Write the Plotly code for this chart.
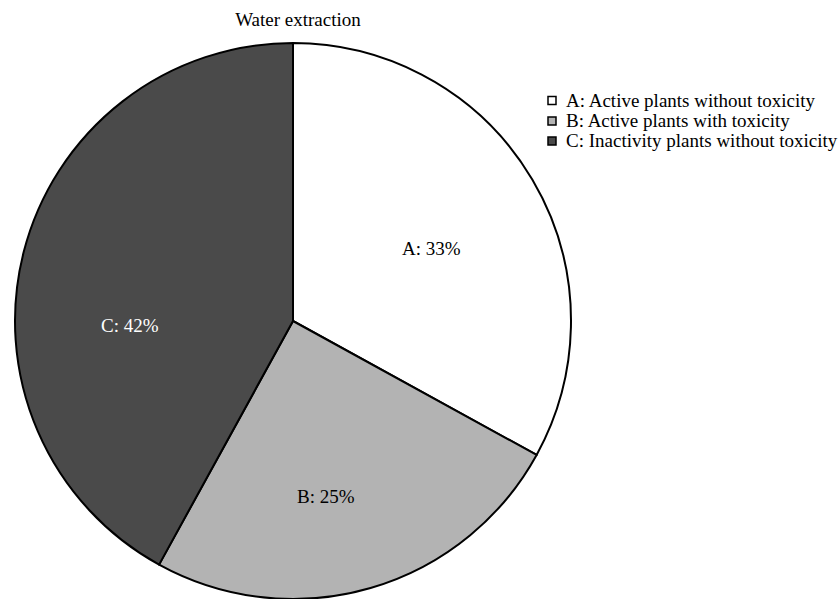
import plotly.graph_objects as go

W, H = 840, 599

# Share of plants per category (water extraction)
categories = ["A", "B", "C"]
legend_names = [
    "A: Active plants without toxicity",
    "B: Active plants with toxicity",
    "C: Inactivity plants without toxicity",
]
shares = [33, 25, 42]
colors = ["#ffffff", "#b3b3b3", "#4a4a4a"]

slice_text = [f"{c}: {v}%" for c, v in zip(categories, shares)]
text_colors = ["black", "black", "white"]

FONT = "Liberation Serif"
FS = 19


def px(x):
    return x / W


def py(y):
    return 1 - y / H


fig = go.Figure(
    go.Pie(
        labels=legend_names,
        values=shares,
        textinfo="none",
        sort=False,
        direction="clockwise",
        rotation=0,
        marker=dict(colors=colors, line=dict(color="black", width=2)),
        domain=dict(x=[0, 586 / W], y=[0, 556 / H]),
        hoverinfo="label+percent",
        showlegend=False,
    )
)

# slice labels placed inside each sector
label_pos = [(432, 248), (326, 496), (130, 325)]
annotations = []
for txt, col, (lx, ly) in zip(slice_text, text_colors, label_pos):
    annotations.append(
        dict(
            text=txt, x=px(lx), y=py(ly), xref="paper", yref="paper",
            xanchor="center", yanchor="middle", showarrow=False,
            font=dict(family=FONT, size=FS, color=col),
        )
    )

# legend: square swatch + text per category
shapes = []
legend_rows = [100.5, 121, 141]
for name, col, ry in zip(legend_names, colors, legend_rows):
    shapes.append(
        dict(
            type="rect", xref="paper", yref="paper",
            x0=px(548), x1=px(556), y0=py(ry - 4), y1=py(ry + 4),
            fillcolor=col, line=dict(color="black", width=1.5),
        )
    )
    annotations.append(
        dict(
            text=name, x=px(564), y=py(ry), xref="paper", yref="paper",
            xanchor="left", yanchor="middle", showarrow=False,
            font=dict(family=FONT, size=FS, color="black"),
        )
    )

fig.update_layout(
    width=W,
    height=H,
    margin=dict(l=0, r=0, t=0, b=0),
    paper_bgcolor="white",
    plot_bgcolor="white",
    font=dict(family=FONT, size=FS, color="black"),
    title=dict(
        text="Water extraction",
        x=px(298),
        xanchor="center",
        y=py(19),
        yanchor="middle",
        font=dict(size=FS, family=FONT, color="black"),
    ),
    annotations=annotations,
    shapes=shapes,
)

fig.write_html("out.html")
